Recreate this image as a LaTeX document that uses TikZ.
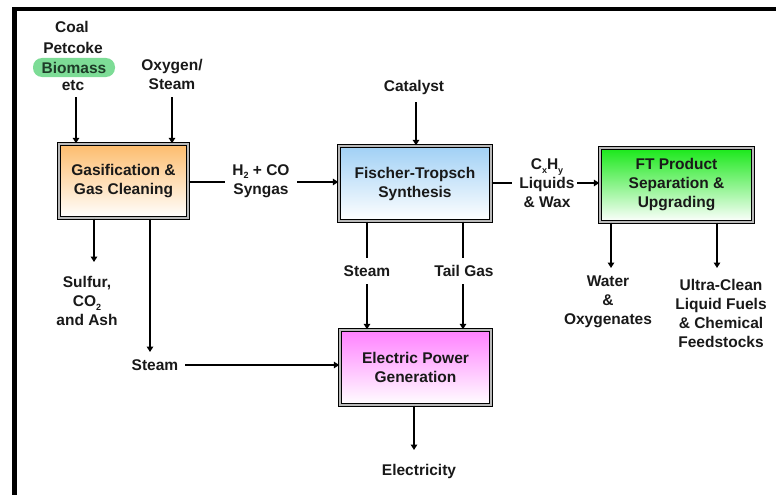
\documentclass[tikz,border=0pt]{standalone}
\usepackage{fontspec}
\setmainfont{Liberation Sans}
\usetikzlibrary{arrows.meta}
\definecolor{txt}{RGB}{25,25,25}
\definecolor{orangetop}{RGB}{253,188,108}
\definecolor{bluetop}{RGB}{160,208,245}
\definecolor{greentop}{RGB}{25,232,25}
\definecolor{magtop}{RGB}{255,128,255}
\definecolor{hilite}{RGB}{125,220,150}
\newcommand\lbfont{\fontsize{15.5}{19}\selectfont\bfseries}
\newcommand\lowsub[1]{\raisebox{-0.45ex}{\fontsize{9}{9}\selectfont #1}}
\begin{document}
\begin{tikzpicture}[x=1pt,y=-1pt,
  lbl/.style={font=\lbfont, text=txt, align=center, inner sep=0pt},
  procbox/.style={draw=black, double=gray!55, double distance=1.8pt, line width=1.4pt,
    bottom color=white, font=\lbfont, text=txt, align=center, inner sep=0pt},
  arr/.style={line width=1.6pt, -{Triangle[width=6.5pt,length=5.5pt]}},
  ln/.style={line width=1.6pt}]
\useasboundingbox (0,0) rectangle (776,495);
% frame
\fill[black] (12,7) rectangle (776,11);
\fill[black] (12,7) rectangle (16.5,495);

% boxes
\node[procbox, top color=orangetop, minimum width=129pt, minimum height=74pt] (gas) at (123.5,181) {Gasification \&\\Gas Cleaning};
\node[procbox, top color=bluetop, minimum width=152pt, minimum height=75pt] (ft) at (415,183.5) {Fischer-Tropsch\\Synthesis};
\node[procbox, top color=greentop, minimum width=153pt, minimum height=74pt] (ftp) at (676.5,185) {FT Product\\Separation \&\\Upgrading};
\node[procbox, top color=magtop, minimum width=151pt, minimum height=75pt] (ep) at (415.5,367.5) {Electric Power\\Generation};

% labels
\node[lbl] (coal) at (72,27) {Coal};
\node[lbl] (petcoke) at (73,48) {Petcoke};
\node[lbl, fill=hilite, rounded corners=9pt, minimum width=82pt, minimum height=19pt, text={rgb,255:red,30;green,60;blue,40}] (biomass) at (74,67.5) {Biomass};
\node[lbl] (etc) at (73,86) {etc};
\node[lbl] (oxy) at (172,74) {Oxygen/\\Steam};
\node[lbl] (syngas) at (261,181) {H\lowsub{2} + CO\\Syngas};
\node[lbl] (cat) at (414,87) {Catalyst};
\node[lbl] (cxhy) at (547,183) {C\lowsub{x}H\lowsub{y}\\Liquids\\\& Wax};
\node[lbl] (water) at (608,302) {Water\\\&\\Oxygenates};
\node[lbl] (ultra) at (721,313) {Ultra-Clean\\Liquid Fuels\\\& Chemical\\Feedstocks};
\node[lbl] (steamft) at (367,271) {Steam};
\node[lbl] (tail) at (464,271) {Tail Gas};
\node[lbl] (sulfur) at (87,301) {Sulfur,\\CO\lowsub{2}\\and Ash};
\node[lbl] (steamg) at (155,365) {Steam};
\node[lbl] (elec) at (419,471) {Electricity};

% connector end points
\coordinate (c1) at (76,97);
\coordinate (o1) at (172,97);
\coordinate (g1) at (225,182);
\coordinate (g2) at (297,182);
\coordinate (k1) at (416,102);
\coordinate (f1) at (512,183);
\coordinate (f2) at (577,183);
\coordinate (w1) at (611,268);
\coordinate (u1) at (717,268);
\coordinate (s1) at (367,258);
\coordinate (s2) at (367,284);
\coordinate (t1) at (463,258);
\coordinate (t2) at (463,284);
\coordinate (e1) at (414,450);
\coordinate (a1) at (94,262);
\coordinate (b1) at (150,352);
\coordinate (b2) at (185,365);

% connectors
\draw[arr] (c1) -- (c1 |- gas.north);
\draw[arr] (o1) -- (o1 |- gas.north);
\draw[ln] (g1 -| gas.east) -- (g1);
\draw[arr] (g2) -- (g2 -| ft.west);
\draw[arr] (k1) -- (k1 |- ft.north);
\draw[ln] (f1 -| ft.east) -- (f1);
\draw[arr] (f2) -- (f2 -| ftp.west);
\draw[arr] (w1 |- ftp.south) -- (w1);
\draw[arr] (u1 |- ftp.south) -- (u1);
\draw[ln] (s1 |- ft.south) -- (s1);
\draw[arr] (s2) -- (s2 |- ep.north);
\draw[ln] (t1 |- ft.south) -- (t1);
\draw[arr] (t2) -- (t2 |- ep.north);
\draw[arr] (e1 |- ep.south) -- (e1);
\draw[arr] (a1 |- gas.south) -- (a1);
\draw[arr] (b1 |- gas.south) -- (b1);
\draw[arr] (b2) -- (b2 -| ep.west);
\end{tikzpicture}
\end{document}
